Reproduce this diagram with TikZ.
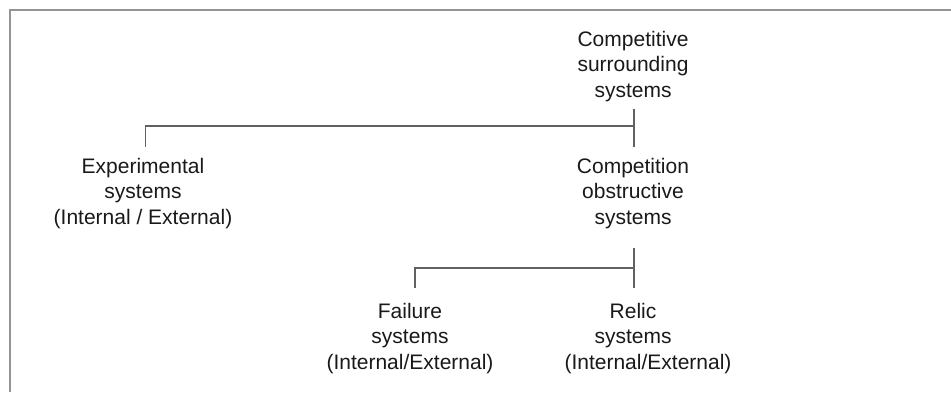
\documentclass[tikz,border=0pt]{standalone}
\usepackage{fontspec}
\setmainfont{Liberation Sans}
\begin{document}
\begin{tikzpicture}[x=1pt,y=-1pt,
  label text/.style={inner sep=0pt, outer sep=0pt, align=center, anchor=north,
    font=\fontsize{21}{25.5}\selectfont, text=black!90},
  link/.style={draw=black!62, line width=1.2pt},
  frame/.style={draw=black!42, line width=1.8pt}]
  \useasboundingbox (0,0) rectangle (951,392);
  % outer frame (only its top and left edges lie inside the page)
  \draw[frame] (10,392) -- (10,10) -- (951,10);

  % labels
  \node[label text] (cs) at (633,31)  {Competitive\\surrounding\\systems};
  \node[label text] (ex) at (143,158) {Experimental\\systems\\(Internal / External)};
  \node[label text] (co) at (633,158) {Competition\\obstructive\\systems};
  \node[label text] (fa) at (410,303) {Failure\\systems\\(Internal/External)};
  \node[label text] (re) at (633,303) {Relic\\systems\\\hspace*{30pt}(Internal/External)};

  % junction points of the tree
  \coordinate (cs-out) at (634,109);
  \coordinate (co-in)  at (634,147);
  \coordinate (ex-in)  at (145.5,147);
  \coordinate (co-out) at (634,248);
  \coordinate (re-in)  at (634,288);
  \coordinate (fa-in)  at (415,288);

  \draw[link] (cs-out) -- (co-in);
  \draw[link] (ex-in) |- (cs-out |- 0,126);
  \draw[link] (co-out) -- (re-in);
  \draw[link] (fa-in) |- (co-out |- 0,268);
\end{tikzpicture}
\end{document}
